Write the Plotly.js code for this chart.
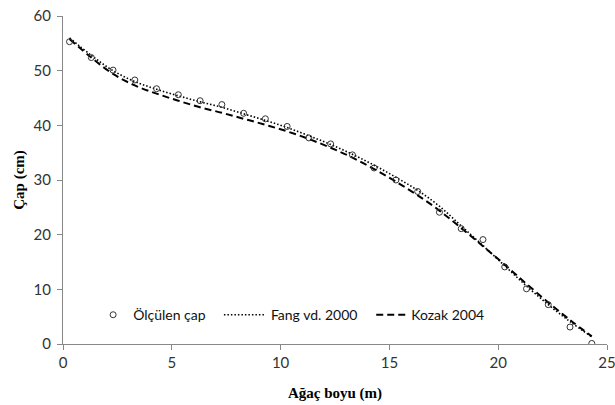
<!DOCTYPE html>
<html>
<head>
<meta charset="utf-8">
<script src="https://cdn.plot.ly/plotly-3.0.1.min.js"></script>
<style>html,body{margin:0;padding:0;background:#fff;}#chart{width:615px;height:405px;}</style>
</head>
<body>
<div id="chart"></div>
<script>
// Heights (m)
const heights = [0.3, 1.3, 2.3, 3.3, 4.3, 5.3, 6.3, 7.3, 8.3, 9.3, 10.3, 11.3, 12.3, 13.3, 14.3, 15.3, 16.3, 17.3, 18.3, 19.3, 20.3, 21.3, 22.3, 23.3, 24.3];
// Measured diameter (cm)
const measured = [55.3, 52.4, 50.1, 48.3, 46.7, 45.6, 44.5, 43.8, 42.2, 41.2, 39.8, 37.7, 36.6, 34.6, 32.2, 30.0, 27.9, 24.1, 21.1, 19.1, 14.1, 10.1, 7.2, 3.1, 0.1];
// Fang vd. 2000 model
const fang = [56.0, 52.8, 50.0, 48.0, 46.6, 45.4, 44.3, 43.3, 42.1, 40.9, 39.6, 38.1, 36.5, 34.7, 32.7, 30.5, 28.1, 25.2, 21.6, 18.0, 14.3, 10.6, 7.2, 4.1, 1.3];
// Kozak 2004 model
const kozak = [55.8, 52.4, 49.4, 47.3, 45.8, 44.5, 43.3, 42.3, 41.2, 40.1, 38.9, 37.5, 35.9, 34.1, 32.0, 29.7, 27.2, 24.4, 21.2, 17.9, 14.5, 11.0, 7.6, 4.4, 1.4];

const seriesNames = ['Ölçülen çap', 'Fang vd. 2000', 'Kozak 2004'];
const xTitle = 'Ağaç boyu (m)';
const yTitle = 'Çap (cm)';
const xTicks = [0, 5, 10, 15, 20, 25];
const yTicks = [0, 10, 20, 30, 40, 50, 60];

const tickFont = {family: 'Lato, "Liberation Sans", sans-serif', size: 15, color: '#333'};
const titleFont = {family: '"Liberation Serif", "Times New Roman", serif', size: 15, color: '#000', weight: 'bold'};

const traces = [
  {x: heights, y: fang, name: seriesNames[1], mode: 'lines', type: 'scatter',
   line: {color: '#000', width: 1.6, dash: '1.5px,2px', shape: 'spline'}, legend: 'legend2'},
  {x: heights, y: kozak, name: seriesNames[2], mode: 'lines', type: 'scatter',
   line: {color: '#000', width: 2, dash: '7px,4px', shape: 'spline'}, legend: 'legend3'},
  {x: heights, y: measured, name: seriesNames[0], mode: 'markers', type: 'scatter',
   marker: {symbol: 'circle-open', size: 6, color: '#333', line: {width: 1, color: '#333'}}, legend: 'legend'}
];

const legendBase = {orientation: 'h', yanchor: 'middle', y: 0.088, bgcolor: 'rgba(0,0,0,0)',
  font: {family: 'Lato, "Liberation Sans", sans-serif', size: 14, color: '#111'}};

const layout = {
  width: 615, height: 405,
  margin: {l: 63, r: 8, t: 16, b: 61},
  paper_bgcolor: '#fff', plot_bgcolor: '#fff',
  showlegend: true,
  legend: Object.assign({}, legendBase, {x: 0.0554, itemwidth: 30}),
  legend2: Object.assign({}, legendBase, {x: 0.2866, itemwidth: 42}),
  legend3: Object.assign({}, legendBase, {x: 0.5666, itemwidth: 30}),
  xaxis: {
    range: [0, 25.0001], tickvals: xTicks, ticklabeloverflow: 'allow',
    showgrid: false, zeroline: false, showline: true, linecolor: '#888', linewidth: 1,
    ticks: 'outside', ticklen: 5, tickcolor: '#888', tickfont: tickFont,
    title: {text: xTitle, font: titleFont, standoff: 17}
  },
  yaxis: {
    range: [0, 60.0001], tickvals: yTicks, ticklabelstandoff: 3, ticklabeloverflow: 'allow',
    showgrid: false, zeroline: false, showline: true, linecolor: '#888', linewidth: 1,
    ticks: 'outside', ticklen: 5, tickcolor: '#888', tickfont: tickFont,
    title: {text: yTitle, font: titleFont, standoff: 5}
  }
};

Plotly.newPlot('chart', traces, layout, {displayModeBar: false, staticPlot: true});
</script>
</body>
</html>
